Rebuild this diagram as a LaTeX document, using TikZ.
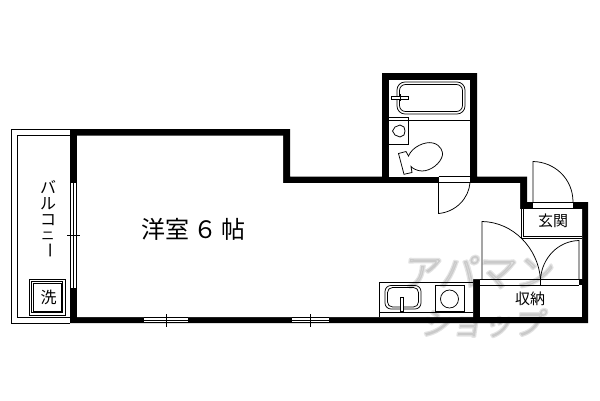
\documentclass[tikz,border=0pt]{standalone}
\usepackage{fontspec}
\newfontfamily\cjk{Noto Sans CJK JP}
\setmainfont{Noto Sans CJK JP}
\newcommand{\heavytext}[1]{\special{pdf:code 2 Tr 2.6 w 1 j}#1\special{pdf:code 0 Tr 1 w 0 j}}
\begin{document}
\begin{tikzpicture}[x=1pt,y=-1pt,
  thin line/.style={draw=black,line width=0.75pt},
  glyph/.style={inner sep=0pt,text=black,font=\cjk},
  mark wm/.style={inner sep=0pt,text=black,xslant=0.15}]
\useasboundingbox (0,0) rectangle (600,400);
\fill[white] (0,0) rectangle (600,400);
% balcony
\draw[thin line] (70,129) -- (11,129) -- (11,323) -- (70,323);
\draw[thin line] (70,135.5) -- (17,135.5) -- (17,317) -- (70,317);
% washer
\draw[thin line] (29,279) rectangle (65,315);
\draw[thin line] (31.5,281.5) rectangle (62.5,312.5);
\draw[thin line] (33,283) rectangle (61,311);
\node[glyph,font=\cjk\fontsize{16}{16}\selectfont] at (48.5,297.5) {洗};
% balcony text
\node[glyph,font=\cjk\fontsize{16}{16}\selectfont] at (48,187) {バ};
\node[glyph,font=\cjk\fontsize{16}{16}\selectfont] at (48,204) {ル};
\node[glyph,font=\cjk\fontsize{16}{16}\selectfont] at (48,220.5) {コ};
\node[glyph,font=\cjk\fontsize{13}{13}\selectfont] at (48,236) {ニ};
\node[glyph,rotate=-90,font=\cjk\fontsize{16}{16}\selectfont] at (48,250) {ー};
% walls
\fill[black] (70,129) -- (290,129) -- (290,176.5) -- (382,176.5) -- (382,73) -- (477,73)
  -- (477,176.5) -- (527,176.5) -- (527,202) -- (588,202) -- (588,323) -- (70,323) -- cycle;
\fill[white] (77,135.7) -- (283,135.7) -- (283,183) -- (520,183) -- (520,209) -- (582,209)
  -- (582,279) -- (473,279) -- (473,317) -- (77,317) -- cycle;
\fill[white] (389,80) rectangle (470,176.5);
\fill[white] (480,285) rectangle (582,317);
\fill[white] (480,279) rectangle (579,285);
\fill[black] (579,279) rectangle (582,285);
% openings: bathroom door
\fill[white] (438.5,176.5) rectangle (470,183);
\draw[thin line] (438.5,176.5) -- (470,176.5);
\draw[thin line] (438.5,182.5) -- (470,182.5);
\draw[thin line] (438.5,176.5) -- (438.5,213.5);
\draw[thin line] (438.5,213.5) .. controls (456,212) and (469,198) .. (470,182.5);
% entrance door
\fill[white] (533,202) rectangle (573,209);
\draw[thin line] (533,202.5) -- (573,202.5);
\draw[thin line] (533,208.5) -- (573,208.5);
\draw[thin line] (533,202) -- (533,161.5) .. controls (555,162) and (573,179) .. (573,202);
% left window
\fill[white] (70,183) rectangle (77,288);
\draw[thin line] (70.5,183) -- (70.5,288);
\draw[thin line] (73,183) -- (73,288);
\draw[thin line] (76.5,183) -- (76.5,288);
\draw[thin line] (67,235) -- (80,235);
% bottom windows
\fill[white] (144,317) rectangle (188,323);
\draw[thin line] (144,317.3) -- (188,317.3) (144,320) -- (188,320) (144,322.7) -- (188,322.7);
\draw[thin line] (166,314) -- (166,327);
\fill[white] (292,317) rectangle (329,323);
\draw[thin line] (292,317.3) -- (329,317.3) (292,320) -- (329,320) (292,322.7) -- (329,322.7);
\draw[thin line] (310,314) -- (310,327);
% entrance hall
\draw[thin line] (521,209) -- (521,238.5);
\draw[thin line] (523,209) -- (523,236);
\draw[thin line] (523,236) -- (582,236);
\draw[thin line] (521,238.5) -- (582,238.5);
\node[glyph,font=\cjk\fontsize{15}{15}\selectfont] at (553,221) {玄関};
% closet doors
\draw[thin line] (482,279) -- (482,221.5) .. controls (513,222) and (538,248) .. (540.5,279);
\draw[thin line] (579,279) -- (579,240.5) .. controls (558,241) and (542,258) .. (540.5,279);
\draw[thin line] (480,279.5) -- (579,279.5);
\draw[thin line] (480,285) -- (579,285);
\draw[thin line] (540.5,279) -- (540.5,285);
\node[glyph,font=\cjk\fontsize{15}{15}\selectfont] at (530,299) {収納};
% bath
\draw[thin line,rounded corners=8pt] (397,82) rectangle (465,114);
\draw[thin line,rounded corners=6pt] (399.5,84.5) rectangle (462.5,111.5);
\draw[thin line,fill=white] (391,96) rectangle (408.5,99);
\draw[thin line] (400,94) -- (400,101);
\draw[thin line] (389,120.5) -- (470,120.5);
\draw[thin line] (389,117.5) -- (408.5,117.5) -- (408.5,144) -- (389,144);
\draw[thin line] (395,127) -- (400,125) -- (404,127) -- (405,131) -- (404,135) -- (400,137) -- (395,135) -- (392.5,131) -- cycle;
% toilet
\draw[thin line] (398.5,153.5) -- (406,151.5) -- (408.5,156)
  .. controls (412,147) and (425,141) .. (433,143) .. controls (441,145) and (443,152) .. (442.5,155)
  .. controls (441,163) and (431,171) .. (422,171) .. controls (417,171) and (412,168) .. (411,166.5)
  -- (412,172.5) -- (404,174.3) -- cycle;
% kitchen
\draw[thin line] (379,282) -- (473,282);
\draw[thin line] (379,282) -- (379,317);
\draw[thin line] (379,312) -- (473,312);
\draw[thin line,rounded corners=6pt] (385,285.5) rectangle (421,309);
\draw[thin line,rounded corners=5pt] (387.5,287.5) rectangle (418.5,307);
\draw[thin line,fill=white] (400.5,297) rectangle (403.5,311);
\draw[thin line] (435.5,285.5) rectangle (464.5,311.5);
\draw[thin line] (449.5,299) circle (9);
% main label
\node[glyph,font=\cjk\fontsize{24}{24}\selectfont] at (193.5,229) {洋室\,６\,帖};
% watermark
\begin{scope}[draw opacity=0.11,fill opacity=0.11,text opacity=0.11]
\node[mark wm,font=\cjk\fontsize{38}{38}\selectfont] at (479,272) {\heavytext{アパマン}};
\node[mark wm,font=\cjk\fontsize{31}{31}\selectfont] at (484,323) {\heavytext{ショップ}};
\end{scope}
\end{tikzpicture}
\end{document}
